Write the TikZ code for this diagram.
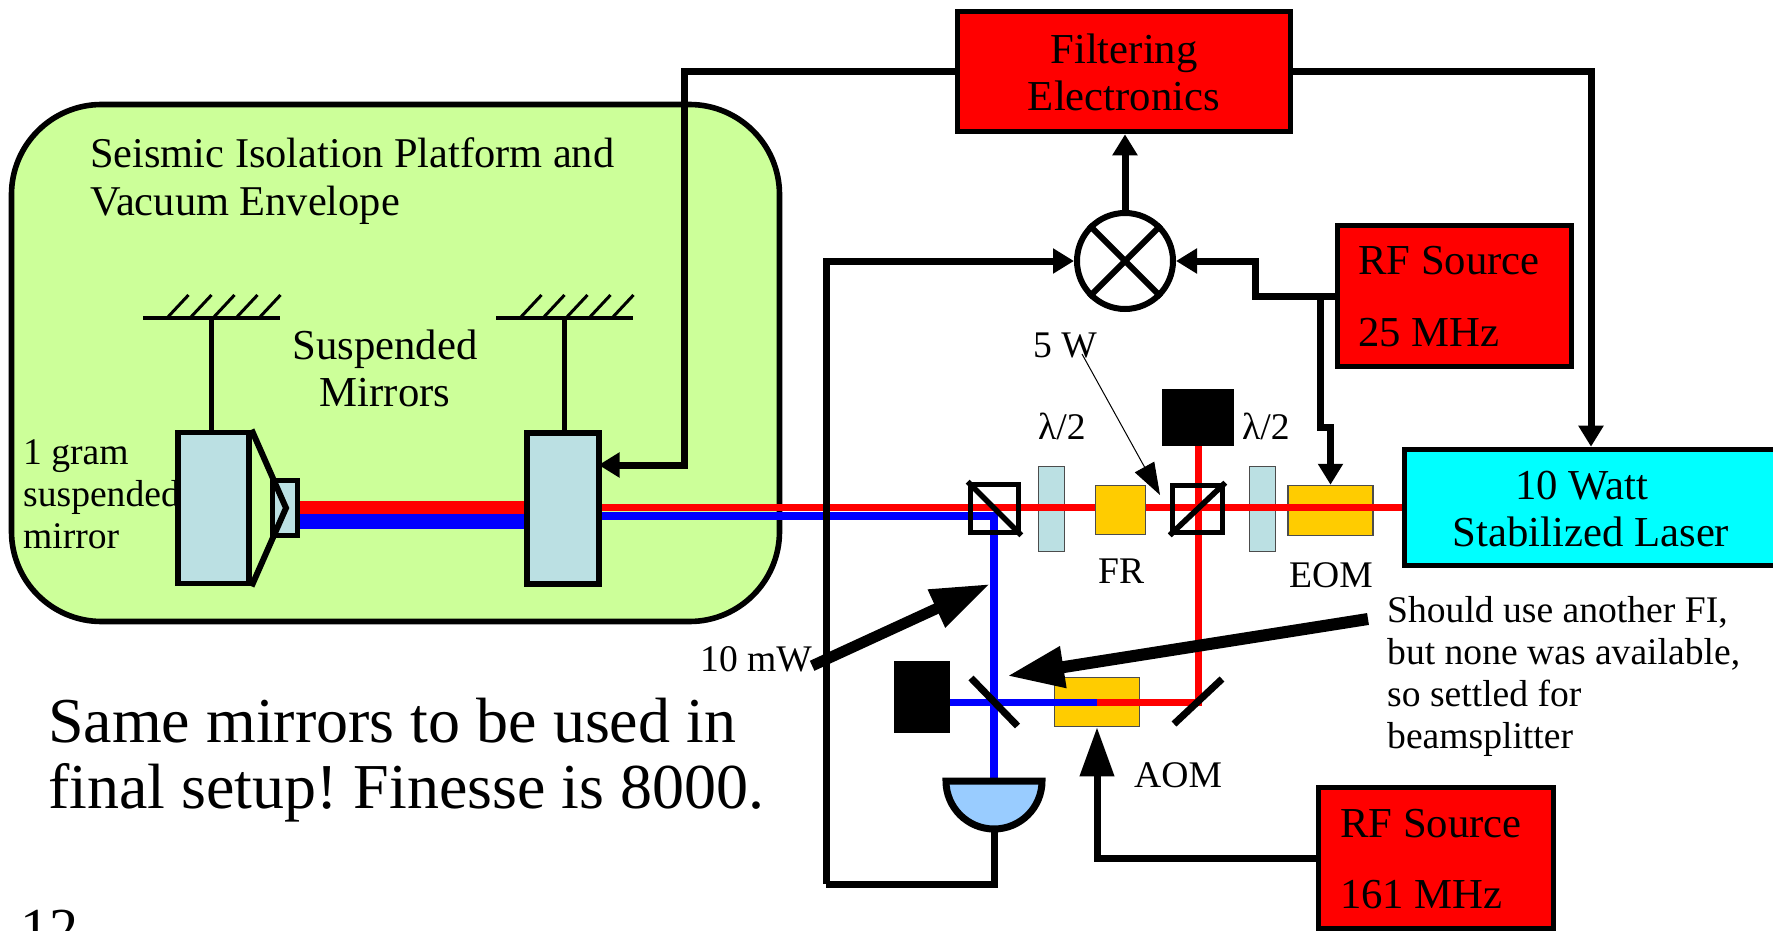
\documentclass[tikz,border=0pt]{standalone}
\usepackage{fontspec}
\setmainfont{Liberation Serif}
\frenchspacing
\usetikzlibrary{arrows.meta}
\usetikzlibrary{calc}
\definecolor{platformgreen}{HTML}{CCFF99}
\definecolor{plateblue}{HTML}{BBE0E3}
\definecolor{modyellow}{HTML}{FFCC00}
\definecolor{pdblue}{HTML}{99CCFF}
\definecolor{lasercyan}{HTML}{00FFFF}
\definecolor{boxred}{HTML}{FF0000}
\definecolor{beamred}{HTML}{FF0000}
\definecolor{beamblue}{HTML}{0000FF}
\tikzset{
  wh/.style 2 args={minimum width=#1pt, minimum height=#2pt, inner sep=0},
  lbl/.style={inner sep=0, anchor=base west, align=left, font=\fontsize{37.6}{42}\selectfont},
  midlbl/.style={inner sep=0, anchor=base, align=center, font=\fontsize{42.7}{47}\selectfont},
  redbox/.style={draw=black, fill=boxred, line width=5.6pt},
  mirror/.style={draw=black, fill=plateblue, line width=5.6pt},
  plate/.style={draw=black!70, fill=plateblue, line width=1.5pt},
  modulator/.style={draw=black!70, fill=modyellow, line width=1.5pt},
  cube/.style={draw=black, line width=5.6pt},
  dump/.style={fill=black},
  wire/.style={draw=black, line width=7pt},
  arrow/.style={wire, -{Triangle[length=21pt, width=24pt]}},
  redbeam/.style={draw=beamred, line width=7pt},
  bluebeam/.style={draw=beamblue, line width=7pt},
  optline/.style={draw=black, line width=7pt}
}
\begin{document}
\begin{tikzpicture}[x=1pt, y=-1pt]
  \useasboundingbox (0,0) rectangle (1773,931);

  % vacuum envelope
  \node[wh={768}{517}, draw=black, fill=platformgreen, line width=5.6pt, rounded corners=90pt] (platform) at (395.5,363) {};
  \node[lbl, font=\fontsize{42.4}{48}\selectfont] (platformtxt) at (90,215.5) {Seismic Isolation Platform and\\Vacuum Envelope};
  \node[midlbl] (suspendedtxt) at (385,406) {Suspended\\Mirrors};
  \node[lbl] (grammirrortxt) at (23,548) {1 gram\\suspended\\mirror};

  % parts the beam runs across
  \node[plate, wh={26}{85}] (platea) at (1051.5,509) {};
  \node[plate, wh={26}{85}] (plateb) at (1262.5,509) {};
  \node[modulator, wh={85}{50}] (eom) at (1330.5,510.5) {};
  \node[modulator, wh={85}{49}] (aom) at (1097,702) {};
  \node[dump, wh={72}{57}] (dumptop) at (1198,417.5) {};
  \node[dump, wh={56}{72}] (dumpleft) at (922,697) {};
  \node[redbox, fill=lasercyan, wh={373}{116}] (laser) at (1591,507.5) {};
  \node[midlbl] (lasertxt) at (1591,546) {10 Watt\hspace*{18pt}\\Stabilized Laser};

  \coordinate (foldm) at (1198,702);
  \coordinate (bsplit) at (994.5,702);
  \coordinate (pd) at (994,781);
  \coordinate (pdbot) at (994,829);
  \node[mirror, wh={25}{55}] (msmall) at (285,508) {};
  \node[mirror, wh={71.5}{151}] (mtwo) at (563,508.7) {};

  % beams
  \draw[redbeam, line width=13pt] ([yshift=1pt]msmall.east) -- ([yshift=1pt]msmall.east -| mtwo.west);
  \draw[bluebeam, line width=15pt] ([yshift=-13.5pt]msmall.east) -- ([yshift=-13.5pt]msmall.east -| mtwo.west);
  \draw[redbeam] (laser.west) -- (laser.west -| mtwo.east);
  \draw[bluebeam, line width=8pt] ([yshift=-7.5pt]mtwo.east) -| (pd);
  \draw[redbeam] (dumptop.south) -- (foldm) -- (aom.center);
  \draw[bluebeam] (aom.center) -- (aom.center -| dumpleft.east);

  % parts on top of the beam
  \node[mirror, wh={70.5}{151}] (mone) at (213.5,508) {};
  \node[modulator, wh={50}{49}] (fr) at (1120.5,510) {};
  \node[cube, wh={48}{48}] (pbsa) at (994.5,508.5) {};
  \node[cube, wh={50}{47}] (pbsb) at (1197.5,509) {};
  \draw[line width=5.6pt] (pbsa.north west) -- (pbsa.south east);
  \draw[line width=5.6pt] (pbsb.south west) -- (pbsb.north east);
  \draw[optline] ($(bsplit)+(-23.5,-24)$) -- ($(bsplit)+(23,24)$);
  \draw[optline] ($(foldm)+(-24,22)$) -- ($(foldm)+(24,-23)$);
  \coordinate (mtip) at (286,508);
  \draw[line width=6pt, line join=miter] (mone.north east) -- (mtip) -- (mone.south east);

  % suspension
  \foreach \name/\xa/\mname in {ceila/143/mone, ceilb/496/mtwo} {
    \coordinate (\name) at (\xa,318);
    \coordinate (\name hang) at ($(\name)+(68.5,0)$);
    \draw[line width=4pt] (\name) -- ++(137,0);
    \foreach \i in {0,...,4}
      \draw[line width=3pt] ($(\name)+(24+23*\i,0)$) -- ++(21.5,-23);
    \draw[line width=5.6pt] (\name hang) -- (\name hang |- \mname.north);
  }

  % photodiode and mixer
  \draw[line width=7pt, fill=pdblue] ($(pd)+(48,0)$) arc (0:180:48) -- cycle;
  \node[circle, draw=black, line width=6pt, fill=white, minimum size=96pt, inner sep=0] (mixer) at (1125,261) {};
  \draw[line width=6pt] (mixer.45) -- (mixer.225);
  \draw[line width=6pt] (mixer.135) -- (mixer.315);

  % electronics
  \node[redbox, wh={333}{120}] (filter) at (1124,71.5) {};
  \node[midlbl] (filtertxt) at (1124,111) {Filtering\\Electronics};
  \node[redbox, wh={234}{141}] (rfa) at (1454.5,296) {};
  \node[lbl, font=\fontsize{42.7}{72}\selectfont] (rfatxt) at (1358,346) {RF Source\\25 MHz};
  \node[redbox, wh={235}{141}] (rfb) at (1436,858) {};
  \node[lbl, font=\fontsize{42.7}{71}\selectfont] (rfbtxt) at (1340,908) {RF Source\\161 MHz};

  \coordinate (fbcorner) at (684,465);
  \coordinate (rfbend) at (1255,296);
  \coordinate (rftap) at (1320,296);
  \coordinate (rfjog) at (1320,427);
  \coordinate (retcorner) at (826,884);
  \draw[arrow, shorten >=-3pt] (filter.west) -| (fbcorner) -- (fbcorner -| mtwo.east);
  \draw[arrow] (filter.east) -| (laser.north);
  \draw[arrow] (mixer.north) -- (mixer.north |- filter.south);
  \draw[arrow] (rfa.west) -- (rfbend) |- (mixer.east);
  \draw[arrow] (rftap) -- (rfjog) -| (eom.north);
  \draw[wire] (pdbot) |- (retcorner);
  \draw[arrow] (retcorner) |- (mixer.west);
  \draw[wire, -{Triangle[length=49pt, width=33pt]}] (rfb.west) -| (aom.south);

  % labels and pointers
  \node[lbl] (fivew) at (1033,357) {5 W};
  \node[lbl] (lama) at (1038,439) {λ/2};
  \node[lbl] (lamb) at (1242,439) {λ/2};
  \node[lbl] (frtxt) at (1098,583) {FR};
  \node[lbl] (eomtxt) at (1289,587) {EOM};
  \node[lbl] (aomtxt) at (1134,787) {AOM};
  \node[lbl] (tenmw) at (700,671) {10 mW};
  \node[lbl] (shouldtxt) at (1387,748) {Should use another FI,\\but none was available,\\so settled for\\beamsplitter};
  \node[lbl, font=\fontsize{64}{66}\selectfont] (sametxt) at (48,808) {Same mirrors to be used in\\final setup! Finesse is 8000.};
  \node[lbl, font=\fontsize{58}{60}\selectfont] (pagenum) at (20,948) {12};

  \coordinate (fivestart) at (1082,354);
  \coordinate (fivetip) at (1160,495);
  \coordinate (tentip) at (990,584);
  \coordinate (shouldstart) at (1368,619);
  \coordinate (shouldtip) at (1007,676);
  \draw[line width=1pt, -{Triangle[length=32pt, width=22pt]}] (fivestart) -- (fivetip);
  \draw[line width=11pt, -{Triangle[length=59pt, width=39pt]}] ([yshift=-7pt]tenmw.east) -- (tentip);
  \draw[line width=12pt, -{Triangle[length=57pt, width=39pt]}] (shouldstart) -- (shouldtip);
\end{tikzpicture}
\end{document}
